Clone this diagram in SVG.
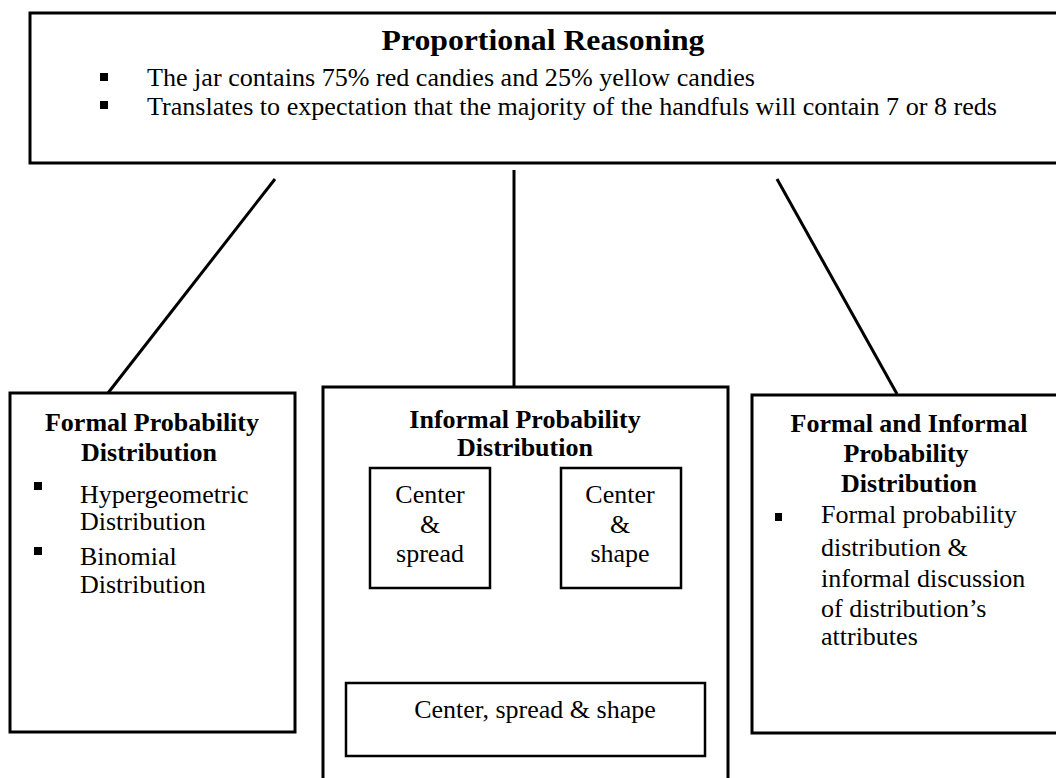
<svg xmlns="http://www.w3.org/2000/svg" width="1056" height="778" viewBox="0 0 1056 778">
  <style>
    .box { fill: #fff; stroke: #000; stroke-width: 3; }
    .inner { fill: #fff; stroke: #000; stroke-width: 2.5; }
    .link { stroke: #000; stroke-width: 3; fill: none; }
    text { font-family: "Liberation Serif", "Times New Roman", serif; fill: #000; }
    .title { font-size: 29px; font-weight: bold; text-anchor: middle; }
    .head { font-size: 26px; font-weight: bold; text-anchor: middle; }
    .body { font-size: 25px; }
    .item { font-size: 26px; }
    .mid { text-anchor: middle; }
    .bullet { fill: #000; }
  </style>
  <rect width="1056" height="778" fill="#fff"/>

  <!-- connectors -->
  <g id="connectors">
    <line class="link" x1="275" y1="179" x2="108" y2="393"/>
    <line class="link" x1="514" y1="170" x2="514" y2="388"/>
    <line class="link" x1="777" y1="179" x2="897" y2="394"/>
    <line class="link" x1="420" y1="589" x2="488" y2="683"/>
    <line class="link" x1="633" y1="589" x2="562" y2="683"/>
  </g>

  <!-- top: proportional reasoning -->
  <g id="proportional">
    <rect class="box" x="30" y="13" width="1040" height="150"/>
    <text class="title" x="543" y="50" textLength="323" lengthAdjust="spacingAndGlyphs">Proportional Reasoning</text>
    <rect class="bullet" x="100" y="73" width="8" height="8"/>
    <text class="body" x="147" y="86" textLength="608" lengthAdjust="spacingAndGlyphs">The jar contains 75% red candies and 25% yellow candies</text>
    <rect class="bullet" x="100" y="101" width="8" height="8"/>
    <text class="body" x="147" y="115" textLength="850" lengthAdjust="spacingAndGlyphs">Translates to expectation that the majority of the handfuls will contain 7 or 8 reds</text>
  </g>

  <!-- left: formal distribution -->
  <g id="formal">
    <rect class="box" x="10" y="393" width="285" height="339"/>
    <text class="head" x="152" y="431">Formal Probability</text>
    <text class="head" x="149" y="461">Distribution</text>
    <rect class="bullet" x="34" y="482" width="8" height="8"/>
    <text class="item" x="80" y="503">Hypergeometric</text>
    <text class="item" x="80" y="530">Distribution</text>
    <rect class="bullet" x="34" y="547" width="8" height="8"/>
    <text class="item" x="80" y="565">Binomial</text>
    <text class="item" x="80" y="593">Distribution</text>
  </g>

  <!-- middle: informal distribution -->
  <g id="informal">
    <rect class="box" x="323" y="387" width="405" height="420"/>
    <text class="head" x="525" y="428">Informal Probability</text>
    <text class="head" x="525" y="456">Distribution</text>
  </g>
  <g id="center-spread">
    <rect class="inner" x="370" y="468" width="120" height="120"/>
    <text class="item mid" x="430" y="503">Center</text>
    <text class="item mid" x="430" y="533">&amp;</text>
    <text class="item mid" x="430" y="562">spread</text>
  </g>
  <g id="center-shape">
    <rect class="inner" x="561" y="468" width="120" height="120"/>
    <text class="item mid" x="620" y="503">Center</text>
    <text class="item mid" x="620" y="533">&amp;</text>
    <text class="item mid" x="620" y="562">shape</text>
  </g>
  <g id="center-spread-shape">
    <rect class="inner" x="346" y="683" width="359" height="73"/>
    <text class="item mid" x="535" y="718">Center, spread &amp; shape</text>
  </g>

  <!-- right: formal and informal -->
  <g id="formal-informal">
    <rect class="box" x="752" y="395" width="320" height="338"/>
    <text class="head" x="909" y="432">Formal and Informal</text>
    <text class="head" x="906" y="462">Probability</text>
    <text class="head" x="909" y="492">Distribution</text>
    <rect class="bullet" x="775" y="513" width="7" height="8"/>
    <text class="item" x="821" y="523">Formal probability</text>
    <text class="item" x="821" y="556">distribution &amp;</text>
    <text class="item" x="821" y="587">informal discussion</text>
    <text class="item" x="821" y="617">of distribution’s</text>
    <text class="item" x="821" y="645">attributes</text>
  </g>
</svg>
